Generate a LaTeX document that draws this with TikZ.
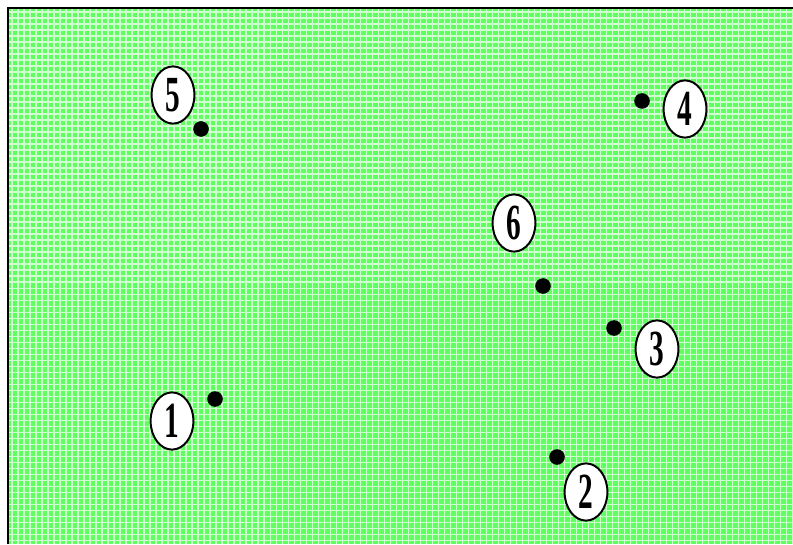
\documentclass[tikz,border=0pt]{standalone}
\usepackage{graphicx}
\usepackage{fontspec}
\setmainfont{Liberation Serif}
\usetikzlibrary{shapes.geometric}
\definecolor{bggreen}{RGB}{95,255,95}

\begin{document}
\begin{tikzpicture}[x=0.025cm,y=-0.025cm,
  pt/.style={circle,fill=black,inner sep=0pt,minimum size=0.39cm},
  tag/.style={draw=black,ellipse,fill=white,line width=1.4pt,inner sep=0pt,
    minimum width=1.07cm,minimum height=1.43cm,font=\fontsize{36}{36}\selectfont\bfseries}]
  \useasboundingbox (0,0) rectangle (793,544);
  % Background
  \fill[bggreen] (9,9) rectangle (793,544);
  \begin{scope}
    \clip (9,9) rectangle (793,544);
    \draw[white,line width=0.8pt,opacity=0.7,step=0.15cm] (0,0) grid (793,544);
  \end{scope}
  % Frame
  \draw[black,line width=1.5pt] (8,544) -- (8,8) -- (793,8);
  % Points
  \node[pt] (p1) at (215,399) {};
  \node[pt] (p2) at (557,457) {};
  \node[pt] (p3) at (614,328) {};
  \node[pt] (p4) at (642,101) {};
  \node[pt] (p5) at (201,129) {};
  \node[pt] (p6) at (543,286) {};
  % Labels
  \node[tag] (t1) at (172,421) {\scalebox{0.58}[1]{1}};
  \node[tag] (t2) at (586,492) {\scalebox{0.58}[1]{2}};
  \node[tag] (t3) at (657,349) {\scalebox{0.58}[1]{3}};
  \node[tag] (t4) at (685,109) {\scalebox{0.58}[1]{4}};
  \node[tag] (t5) at (173,95) {\scalebox{0.58}[1]{5}};
  \node[tag] (t6) at (514,223) {\scalebox{0.58}[1]{6}};
\end{tikzpicture}
\end{document}
